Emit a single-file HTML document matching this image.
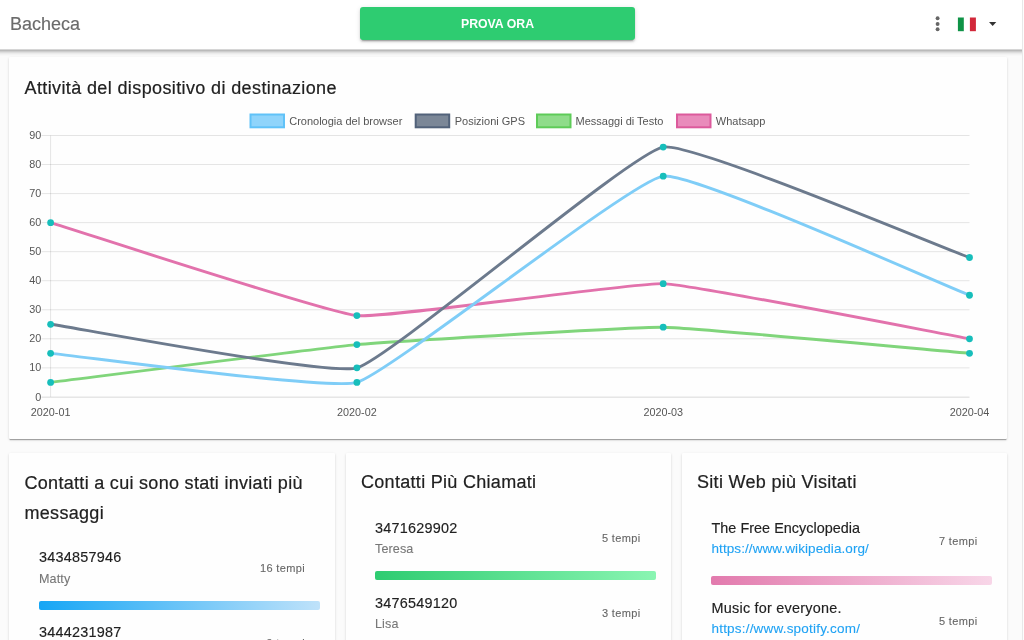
<!DOCTYPE html>
<html><head><meta charset="utf-8">
<style>
*{box-sizing:border-box;margin:0;padding:0}
body{will-change:transform}
html,body{width:1024px;height:640px;overflow:hidden;background:#fbfbfb;font-family:"Liberation Sans",sans-serif;position:relative}
.abs{position:absolute}
.hdr{left:0;top:0;width:1022px;height:49px;background:#fff;z-index:3}
.sb{left:1022px;top:0;width:2px;height:640px;background:#fdfdfd;border-left:1px solid #e8e8e8;z-index:4}
.ttl{left:10px;top:13px;font-size:18px;color:#6b6b6b;line-height:22px;-webkit-text-stroke:.15px #6b6b6b}
.btn{left:360px;top:7px;width:275px;height:33px;background:#2ecc71;border-radius:3px;box-shadow:0 3px 1px -2px rgba(0,0,0,.2),0 2px 2px 0 rgba(0,0,0,.14),0 1px 5px 0 rgba(0,0,0,.12);color:#fff;font-weight:bold;font-size:12.3px;text-align:center;line-height:35.8px;letter-spacing:0}
.card{background:#fefefe;border-radius:1px;box-shadow:0 2px 1px -1px rgba(0,0,0,.2),0 1px 1px 0 rgba(0,0,0,.14),0 1px 3px 0 rgba(0,0,0,.12)}
.ct{font-size:18px;color:#212121;letter-spacing:.3px;line-height:29.5px;-webkit-text-stroke:.2px #212121}
.num{font-size:14.4px;color:#212121;line-height:17px;letter-spacing:.25px;-webkit-text-stroke:.15px #212121}
.sub{font-size:12.6px;color:#777;line-height:15px;letter-spacing:.1px;-webkit-text-stroke:.1px #777}
.tmp{font-size:11px;color:#666;line-height:13px;letter-spacing:.35px;-webkit-text-stroke:.1px #666}
.bar{height:9px;border-radius:2px}
.lnk{font-size:13.5px;color:#1fa2f4;line-height:16px;letter-spacing:.2px;-webkit-text-stroke:.1px #1fa2f4}
svg text{font-family:"Liberation Sans",sans-serif;font-size:10.8px;fill:#555}
.leg text{font-size:11px}
</style></head><body>
<div class="abs hdr">
  <div class="abs ttl">Bacheca</div>
  <div class="abs btn">PROVA ORA</div>
  <svg class="abs" style="left:930px;top:14px" width="80" height="22" viewBox="930 14 80 22">
    <circle cx="937.6" cy="18.3" r="1.95" fill="#666"/>
    <circle cx="937.6" cy="24" r="1.95" fill="#666"/>
    <circle cx="937.6" cy="29.3" r="1.95" fill="#666"/>
    <rect x="957.9" y="17.5" width="6" height="13.7" fill="#0f9347"/>
    <rect x="963.9" y="17.5" width="6" height="13.7" fill="#fff"/>
    <rect x="969.9" y="17.5" width="6" height="13.7" fill="#d2283a"/>
    <path d="M989 21.9 L996.3 21.9 L992.65 26.1 Z" fill="#333"/>
  </svg>
</div>
<div class="abs sb"></div>
<div class="abs" style="left:0;top:49px;width:1022px;height:7px;z-index:3;background:linear-gradient(to bottom,rgb(214,214,214) 0px,rgb(214,214,214) 1px,rgb(186,186,186) 1px,rgb(186,186,186) 2px,rgb(205,205,205) 2px,rgb(205,205,205) 3px,rgb(222,222,222) 3px,rgb(222,222,222) 4px,rgb(235,235,235) 4px,rgb(235,235,235) 5px,rgb(243,243,243) 5px,rgb(243,243,243) 6px,rgb(248,248,248) 6px,rgb(248,248,248) 7px)"></div>

<div class="abs card" style="left:9px;top:57px;width:998px;height:382px">
  <div class="abs ct" style="left:15.5px;top:16.5px;letter-spacing:.38px">Attività del dispositivo di destinazione</div>
</div>
<svg class="abs leg" style="left:0;top:0;z-index:2" width="1024" height="640">
  <rect x="250.5" y="114.5" width="33.5" height="12.8" fill="#8fd4fb" stroke="#60c2f8" stroke-width="2"/>
  <text x="289.2" y="124.6">Cronologia del browser</text>
  <rect x="415.7" y="114.5" width="33.5" height="12.8" fill="#7b8797" stroke="#52627a" stroke-width="2"/>
  <text x="454.7" y="124.6">Posizioni GPS</text>
  <rect x="537" y="114.5" width="33.5" height="12.8" fill="#8fdc8a" stroke="#5ecb58" stroke-width="2"/>
  <text x="575.5" y="124.6">Messaggi di Testo</text>
  <rect x="677" y="114.5" width="33.5" height="12.8" fill="#e98bbb" stroke="#dc5a9c" stroke-width="2"/>
  <text x="715.8" y="124.6">Whatsapp</text>
<line x1="41.5" x2="969.5" y1="397.15" y2="397.15" stroke="rgba(0,0,0,0.15)" stroke-width="1"/>
<line x1="41.5" x2="969.5" y1="367.86" y2="367.86" stroke="rgba(0,0,0,0.1)" stroke-width="1"/>
<line x1="41.5" x2="969.5" y1="338.81" y2="338.81" stroke="rgba(0,0,0,0.1)" stroke-width="1"/>
<line x1="41.5" x2="969.5" y1="309.77" y2="309.77" stroke="rgba(0,0,0,0.1)" stroke-width="1"/>
<line x1="41.5" x2="969.5" y1="280.72" y2="280.72" stroke="rgba(0,0,0,0.1)" stroke-width="1"/>
<line x1="41.5" x2="969.5" y1="251.68" y2="251.68" stroke="rgba(0,0,0,0.1)" stroke-width="1"/>
<line x1="41.5" x2="969.5" y1="222.63" y2="222.63" stroke="rgba(0,0,0,0.1)" stroke-width="1"/>
<line x1="41.5" x2="969.5" y1="193.59" y2="193.59" stroke="rgba(0,0,0,0.1)" stroke-width="1"/>
<line x1="41.5" x2="969.5" y1="164.54" y2="164.54" stroke="rgba(0,0,0,0.1)" stroke-width="1"/>
<line x1="41.5" x2="969.5" y1="135.50" y2="135.50" stroke="rgba(0,0,0,0.1)" stroke-width="1"/>
<line x1="50.60" x2="50.60" y1="135.50" y2="396.90" stroke="rgba(0,0,0,0.1)" stroke-width="1"/>
<path d="M50.60 222.63 C81.23 231.93 325.68 312.47 356.90 315.58 C386.94 318.57 632.73 282.47 663.20 283.63 C693.99 284.79 938.87 333.29 969.50 338.81" fill="none" stroke="#e272ac" stroke-width="2.9"/>
<circle cx="50.60" cy="222.63" r="3.4" fill="#17bebb"/>
<circle cx="356.90" cy="315.58" r="3.4" fill="#17bebb"/>
<circle cx="663.20" cy="283.63" r="3.4" fill="#17bebb"/>
<circle cx="969.50" cy="338.81" r="3.4" fill="#17bebb"/>
<path d="M50.60 382.38 C81.23 378.60 326.18 347.39 356.90 344.62 C387.44 341.87 632.60 326.76 663.20 327.19 C693.86 327.63 938.87 350.72 969.50 353.33" fill="none" stroke="#80d57b" stroke-width="2.9"/>
<circle cx="50.60" cy="382.38" r="3.4" fill="#17bebb"/>
<circle cx="356.90" cy="344.62" r="3.4" fill="#17bebb"/>
<circle cx="663.20" cy="327.19" r="3.4" fill="#17bebb"/>
<circle cx="969.50" cy="353.33" r="3.4" fill="#17bebb"/>
<path d="M50.60 324.29 C81.23 328.65 329.31 375.84 356.90 367.86 C390.57 358.12 630.31 153.04 663.20 147.12 C691.57 142.01 938.87 246.45 969.50 257.49" fill="none" stroke="#6c7a8d" stroke-width="2.9"/>
<circle cx="50.60" cy="324.29" r="3.4" fill="#17bebb"/>
<circle cx="356.90" cy="367.86" r="3.4" fill="#17bebb"/>
<circle cx="663.20" cy="147.12" r="3.4" fill="#17bebb"/>
<circle cx="969.50" cy="257.49" r="3.4" fill="#17bebb"/>
<path d="M50.60 353.33 C81.23 356.24 329.06 390.43 356.90 382.38 C390.32 372.71 630.79 180.77 663.20 176.16 C692.05 172.06 938.87 283.34 969.50 295.24" fill="none" stroke="#7fcdf7" stroke-width="2.9"/>
<circle cx="50.60" cy="353.33" r="3.4" fill="#17bebb"/>
<circle cx="356.90" cy="382.38" r="3.4" fill="#17bebb"/>
<circle cx="663.20" cy="176.16" r="3.4" fill="#17bebb"/>
<circle cx="969.50" cy="295.24" r="3.4" fill="#17bebb"/>
<text style="font-size:10.8px" x="41.2" y="396.50" text-anchor="end" dominant-baseline="central">0</text>
<text style="font-size:10.8px" x="41.2" y="367.46" text-anchor="end" dominant-baseline="central">10</text>
<text style="font-size:10.8px" x="41.2" y="338.41" text-anchor="end" dominant-baseline="central">20</text>
<text style="font-size:10.8px" x="41.2" y="309.37" text-anchor="end" dominant-baseline="central">30</text>
<text style="font-size:10.8px" x="41.2" y="280.32" text-anchor="end" dominant-baseline="central">40</text>
<text style="font-size:10.8px" x="41.2" y="251.28" text-anchor="end" dominant-baseline="central">50</text>
<text style="font-size:10.8px" x="41.2" y="222.23" text-anchor="end" dominant-baseline="central">60</text>
<text style="font-size:10.8px" x="41.2" y="193.19" text-anchor="end" dominant-baseline="central">70</text>
<text style="font-size:10.8px" x="41.2" y="164.14" text-anchor="end" dominant-baseline="central">80</text>
<text style="font-size:10.8px" x="41.2" y="135.10" text-anchor="end" dominant-baseline="central">90</text>
<text style="font-size:10.8px" x="50.60" y="416" text-anchor="middle">2020-01</text>
<text style="font-size:10.8px" x="356.90" y="416" text-anchor="middle">2020-02</text>
<text style="font-size:10.8px" x="663.20" y="416" text-anchor="middle">2020-03</text>
<text style="font-size:10.8px" x="969.50" y="416" text-anchor="middle">2020-04</text>
</svg>

<div class="abs card" style="left:9px;top:453px;width:326px;height:200px">
  <div class="abs ct" style="left:15.5px;top:16px">Contatti a cui sono stati inviati più<br>messaggi</div>
  <div class="abs num" style="left:30px;top:96px">3434857946</div>
  <div class="abs sub" style="left:30px;top:119px">Matty</div>
  <div class="abs tmp" style="left:251px;top:109px">16 tempi</div>
  <div class="abs bar" style="left:30px;top:147.5px;width:281px;background:linear-gradient(90deg,#16a6f5,#bfe2fa)"></div>
  <div class="abs num" style="left:30px;top:171px">3444231987</div>
  <div class="abs tmp" style="left:257.5px;top:184px">9 tempi</div>
</div>

<div class="abs card" style="left:346px;top:453px;width:325px;height:200px">
  <div class="abs ct" style="left:15px;top:15px">Contatti Più Chiamati</div>
  <div class="abs num" style="left:29px;top:67px">3471629902</div>
  <div class="abs sub" style="left:29px;top:89px">Teresa</div>
  <div class="abs tmp" style="left:256px;top:79px">5 tempi</div>
  <div class="abs bar" style="left:29px;top:118px;width:281px;background:linear-gradient(90deg,#2ecc71,#8af5b2)"></div>
  <div class="abs num" style="left:29px;top:142px">3476549120</div>
  <div class="abs sub" style="left:29px;top:164px">Lisa</div>
  <div class="abs tmp" style="left:256px;top:154px">3 tempi</div>
</div>

<div class="abs card" style="left:682px;top:453px;width:325px;height:200px">
  <div class="abs ct" style="left:15px;top:15px">Siti Web più Visitati</div>
  <div class="abs num" style="left:29.5px;top:67px;letter-spacing:.03px">The Free Encyclopedia</div>
  <div class="abs lnk" style="left:29.5px;top:88px;letter-spacing:.08px">https://www.wikipedia.org/</div>
  <div class="abs tmp" style="left:257px;top:82px">7 tempi</div>
  <div class="abs bar" style="left:29px;top:123px;width:281px;background:linear-gradient(90deg,#e27aad,#f8d6e8)"></div>
  <div class="abs num" style="left:29.5px;top:147px">Music for everyone.</div>
  <div class="abs lnk" style="left:29.5px;top:168px">https://www.spotify.com/</div>
  <div class="abs tmp" style="left:257px;top:162px">5 tempi</div>
</div>
</body></html>
